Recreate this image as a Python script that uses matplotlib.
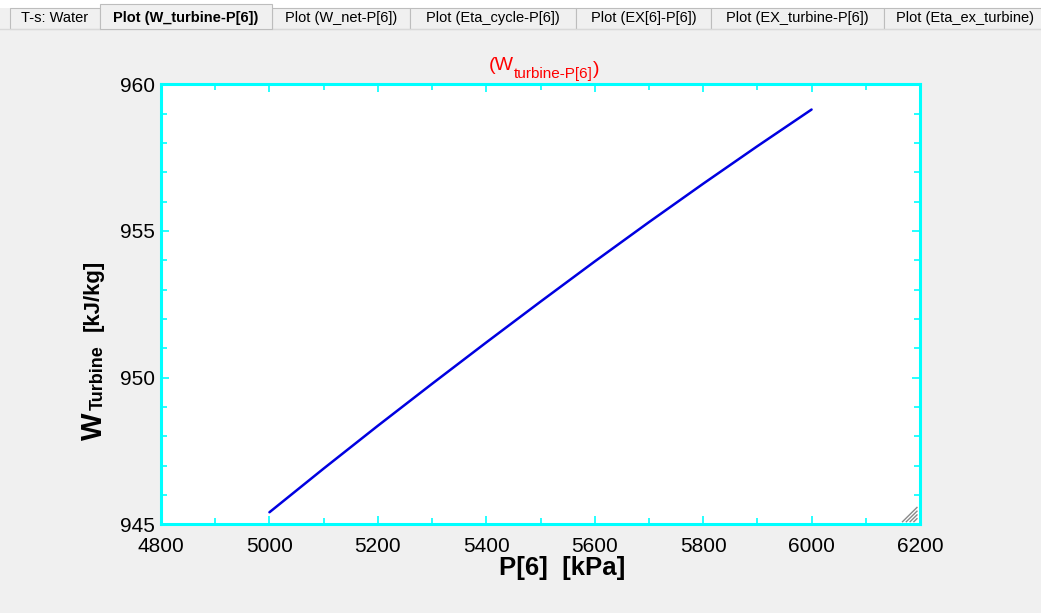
import numpy as np
import matplotlib
matplotlib.use("Agg")
import matplotlib.pyplot as plt
from matplotlib.patches import Rectangle
from matplotlib.ticker import MultipleLocator

plt.rcParams['font.family'] = ['Liberation Sans', 'DejaVu Sans']

# data
p6 = [5000, 5100, 5200, 5300, 5400, 5500, 5600, 5700, 5800, 5900, 6000]
w_turbine = [945.41, 946.90, 948.36, 949.79, 951.20, 952.59, 953.96, 955.30, 956.61, 957.89, 959.14]

tabs = ["T-s: Water", "Plot (W_turbine-P[6])", "Plot (W_net-P[6])", "Plot (Eta_cycle-P[6])",
        "Plot (EX[6]-P[6])", "Plot (EX_turbine-P[6])", "Plot (Eta_ex_turbine)"]
tab_edges = [10, 100, 272, 410, 576, 711, 884, 1045]
active_tab = 1

W, H = 1041, 613
fig = plt.figure(figsize=(W / 100, H / 100), dpi=100)
fig.patch.set_facecolor('#f0f0f0')

# window strip above the tabs
fig.add_artist(Rectangle((0, 1 - 8 / H), 1, 8 / H, transform=fig.transFigure,
                         facecolor='white', edgecolor='none', zorder=0))
fig.add_artist(plt.Line2D([0, 1], [1 - 28.5 / H] * 2, transform=fig.transFigure,
                          color='#d9d9d9', lw=1))

for i, name in enumerate(tabs):
    x0, x1 = tab_edges[i], tab_edges[i + 1]
    if i == active_tab:
        top, bold = 4, 'bold'
    else:
        top, bold = 8, 'normal'
    fig.add_artist(Rectangle((x0 / W, 1 - 28.5 / H), (x1 - x0) / W, (28.5 - top) / H,
                             transform=fig.transFigure, facecolor='#f0f0f0',
                             edgecolor='#bdbdbd', lw=0.8, zorder=2 if i == active_tab else 1))
    fig.text((x0 + x1) / 2 / W, 1 - 18 / H, name, ha='center', va='center',
             fontsize=10.5, fontweight=bold, color='black', zorder=3)

ax = fig.add_axes([161 / W, 1 - 524.3 / H, (920 - 161) / W, (524.3 - 84.3) / H])
ax.set_facecolor('white')
ax.plot(p6, w_turbine, color='#0000e0', lw=1.8, solid_capstyle='round')

ax.set_xlim(4800, 6200)
ax.set_ylim(945, 960)
ax.xaxis.set_major_locator(MultipleLocator(200))
ax.xaxis.set_minor_locator(MultipleLocator(100))
ax.yaxis.set_major_locator(MultipleLocator(5))
ax.yaxis.set_minor_locator(MultipleLocator(1))
for s in ax.spines.values():
    s.set_color('#00ffff')
    s.set_linewidth(2.2)
ax.tick_params(which='both', direction='in', color='#00ffff', top=True, right=True,
               labelsize=15, width=1.2)
ax.tick_params(which='major', length=6)
ax.tick_params(which='minor', length=4)
ax.tick_params(axis='y', which='major', pad=4.5)
ax.tick_params(axis='x', which='major', pad=9)

# resize grip in the corner
for k in range(4):
    d = 0.004 + k * 0.005
    ax.plot([1 - 0.004, 1 - 0.004 - d * 1.0], [0.006 + d * 1.7, 0.006], transform=ax.transAxes,
            color='#8a8a8a', lw=1, clip_on=False)

# x label
fig.text(562 / W, 1 - 575 / H, "P[6]  [kPa]", ha='center', va='baseline',
         fontsize=18.5, fontweight='bold')

# y label: big W, small subscript, then units, chained along the rotated baseline
yw = fig.text(102 / W, 1 - 440 / H, "W", rotation=90, rotation_mode='anchor',
              ha='left', va='baseline', fontsize=21, fontweight='bold')
yt = ax.annotate("Turbine", xy=(103 / W, 1), xycoords=(fig.transFigure, yw),
                 xytext=(0, 2), textcoords='offset pixels', rotation=90, rotation_mode='anchor',
                 ha='left', va='baseline', fontsize=13, fontweight='bold', annotation_clip=False)
ax.annotate("[kJ/kg]", xy=(98.5 / W, 1), xycoords=(fig.transFigure, yt),
            xytext=(0, 15), textcoords='offset pixels', rotation=90, rotation_mode='anchor',
            ha='left', va='baseline', fontsize=16, fontweight='bold', annotation_clip=False)

# title with subscript
t1 = fig.text(489 / W, 1 - 70 / H, "(W", ha='left', va='baseline', fontsize=14, color='#ff0000')
t2 = ax.annotate("turbine-P[6]", xy=(1, 0), xycoords=t1, xytext=(0, -3),
                 textcoords='offset points', ha='left', va='baseline', fontsize=11,
                 color='#ff0000', annotation_clip=False)
ax.annotate(")", xy=(1, 0), xycoords=(t2, t1), ha='left', va='baseline', fontsize=14,
            color='#ff0000', annotation_clip=False)

fig.savefig("out.png", dpi=100, facecolor=fig.get_facecolor())
